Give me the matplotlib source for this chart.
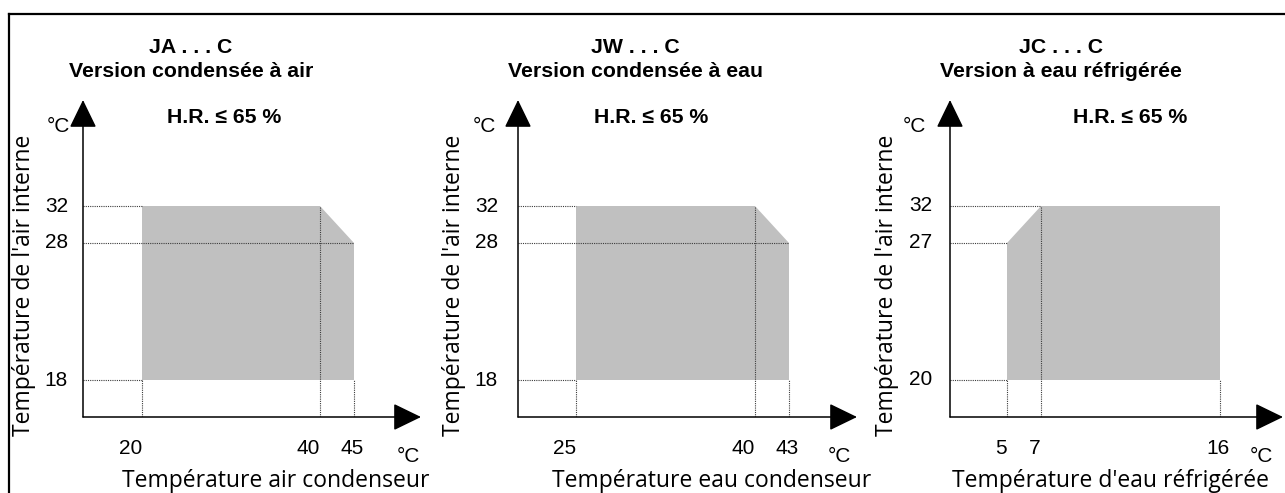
import numpy as np
import matplotlib
matplotlib.use('Agg')
import matplotlib.pyplot as plt
from matplotlib.lines import Line2D

plt.rcParams['font.family'] = ['Liberation Sans', 'DejaVu Sans']

# --- chart content -------------------------------------------------------
titles = ['JA . . . C', 'JW . . . C', 'JC . . . C']
subtitles = ['Version condensée à air', 'Version condensée à eau', 'Version à eau réfrigérée']
hr_text = 'H.R. ≤ 65 %'
y_label = "Température de l'air interne"
x_labels = ['Température air condenseur', 'Température eau condenseur', "Température d'eau réfrigérée"]
unit = '°C'

# tick values (°C)
x_ticks = [[20, 40, 45], [25, 40, 43], [5, 7, 16]]
y_ticks = [[18, 28, 32], [18, 28, 32], [20, 27, 32]]

# operating envelopes (°C)
env_x = [[20, 45, 45, 40, 20], [25, 43, 43, 40, 25], [5, 16, 16, 7, 5]]
env_y = [[18, 18, 28, 32, 32], [18, 18, 28, 32, 32], [20, 20, 32, 32, 27]]

# dotted guides: (level, where it stops)
h_guides = [[(18, 20), (28, 45), (32, 20)],
            [(18, 25), (28, 43), (32, 25)],
            [(20, 5), (27, 5), (32, 7)]]
v_guides = [[(20, 18), (40, 32), (45, 18)],
            [(25, 18), (40, 32), (43, 18)],
            [(5, 20), (7, 32), (16, 20)]]

# --- layout (pixels of the 1285x493 picture) -----------------------------
W, H = 1285, 493
origin_x = [83, 518, 950]
tip_x = [421, 857, 1283]
origin_y, tip_y = 417, 100
xtick_px = [[142, 320, 354], [576, 755, 789], [1007, 1041, 1220]]
ytick_px = [[380, 243, 206], [380, 243, 206], [380, 243, 206]]
xtick_ha = ['right', 'right', 'center']
title_cx = [191, 635, 1061]
hr_cx = [224, 651, 1130]
yunit_x = [47, 473, 903]
ytick_right = [68, 498, 932]
ylabel_cx = [24, 454, 887]
xunit_x = [397, 828, 1250]
xlabel_cx = [276, 712, 1111]

LABEL_FONT = ['Open Sans', 'DejaVu Sans']
SHADE = '#c0c0c0'
GUIDE = '#3c3c3c'


def lin(v, xp, fp):
    # piecewise-linear map, extended linearly past both ends
    v = np.asarray(v, float)
    out = np.interp(v, xp, fp)
    lo = fp[0] + (v - xp[0]) * (fp[1] - fp[0]) / (xp[1] - xp[0])
    hi = fp[-1] + (v - xp[-1]) * (fp[-1] - fp[-2]) / (xp[-1] - xp[-2])
    return np.where(v < xp[0], lo, np.where(v > xp[-1], hi, out))


def schematic_scale(vals, fracs):
    vals = np.asarray(vals, float)
    fracs = np.asarray(fracs, float)
    return (lambda v: lin(v, vals, fracs)), (lambda p: lin(p, fracs, vals))


def fig_xy(x, y):
    return x / W, 1 - y / H


fig = plt.figure(figsize=(W / 100, H / 100), dpi=100)

arrow = dict(arrowstyle='-|>,head_length=1.75,head_width=0.85', mutation_scale=10,
             lw=1.1, color='black', shrinkA=0, shrinkB=0)

for i in range(3):
    ox, tx = origin_x[i], tip_x[i]
    w_px, h_px = tx - ox, origin_y - tip_y
    ax = fig.add_axes([ox / W, 1 - origin_y / H, w_px / W, h_px / H])
    ax.axis('off')

    fx, ix = schematic_scale(x_ticks[i], [(p - ox) / w_px for p in xtick_px[i]])
    fy, iy = schematic_scale(y_ticks[i], [(origin_y - p) / h_px for p in ytick_px[i]])
    ax.set_xscale('function', functions=(fx, ix))
    ax.set_yscale('function', functions=(fy, iy))
    x0, x1 = float(ix(0.0)), float(ix(1.0))
    y0, y1 = float(iy(0.0)), float(iy(1.0))
    ax.set_xlim(x0, x1)
    ax.set_ylim(y0, y1)

    ax.fill(env_x[i], env_y[i], color=SHADE, lw=0, zorder=1)
    for lev, end in h_guides[i]:
        ax.plot([x0, end], [lev, lev], ls=(0, (1, 1)), color=GUIDE, lw=0.8, zorder=2)
    for lev, end in v_guides[i]:
        ax.plot([lev, lev], [y0, end], ls=(0, (1, 1)), color=GUIDE, lw=0.8, zorder=2)

    ax.annotate('', xy=(1, 0), xytext=(0, 0), xycoords='axes fraction',
                arrowprops=arrow, annotation_clip=False, zorder=5)
    ax.annotate('', xy=(0, 1), xytext=(0, 0), xycoords='axes fraction',
                arrowprops=arrow, annotation_clip=False, zorder=5)

    # tick labels
    for v, ha in zip(x_ticks[i], xtick_ha):
        dx = 0 if ha == 'right' else -2
        ax.annotate(str(v), xy=(v, y0), xytext=(dx, -32), textcoords='offset pixels',
                    ha=ha, va='center', fontsize=15, annotation_clip=False)
    for v in y_ticks[i]:
        ax.annotate(str(v), xy=(x0, v), xytext=(ytick_right[i] - ox, 0),
                    textcoords='offset pixels', ha='right', va='center',
                    fontsize=15, annotation_clip=False)

    # texts around the panel
    fig.text(*fig_xy(title_cx[i], 53), titles[i], ha='center', va='baseline',
             fontsize=15.3, fontweight='bold')
    fig.text(*fig_xy(title_cx[i], 77), subtitles[i], ha='center', va='baseline',
             fontsize=15.3, fontweight='bold')
    fig.text(*fig_xy(hr_cx[i], 123), hr_text, ha='center', va='baseline',
             fontsize=15.3, fontweight='bold')
    fig.text(*fig_xy(yunit_x[i], 132), unit, ha='left', va='baseline', fontsize=15)
    fig.text(*fig_xy(xunit_x[i], 462), unit, ha='left', va='baseline', fontsize=15)
    fig.text(*fig_xy(ylabel_cx[i], 285), y_label, ha='center', va='center',
             rotation=90, fontsize=16.5, family=LABEL_FONT)
    fig.text(*fig_xy(xlabel_cx[i], 481), x_labels[i], ha='center', va='center',
             fontsize=16.5, family=LABEL_FONT)

# outer frame of the figure panel
fx0, fy0 = fig_xy(9, 14)
fig.add_artist(Line2D([fx0, fx0], [0, fy0], color='black', lw=1.6, transform=fig.transFigure))
fig.add_artist(Line2D([fx0, 1], [fy0, fy0], color='black', lw=1.6, transform=fig.transFigure))

fig.savefig('out.png', dpi=100)
